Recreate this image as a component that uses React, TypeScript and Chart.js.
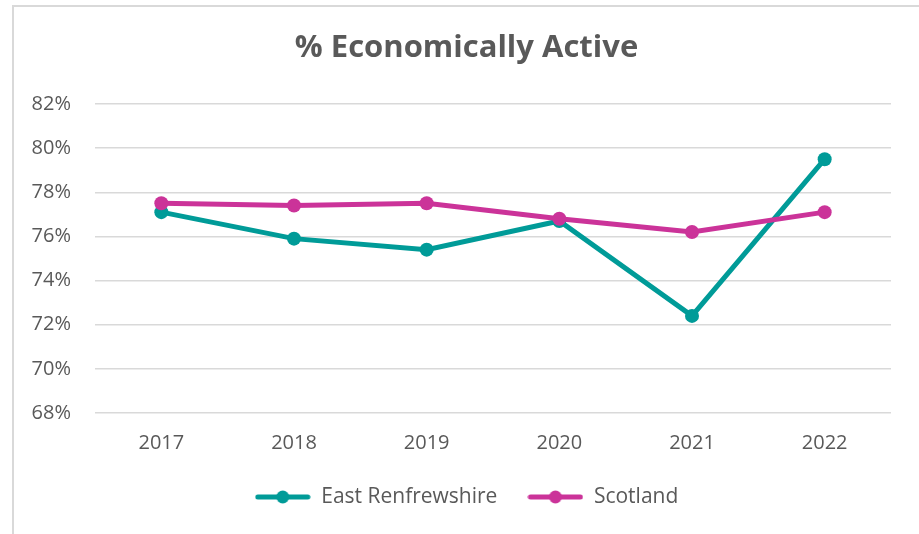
import React, { useEffect, useRef } from "react";
import { Chart, registerables } from "chart.js";

Chart.register(...registerables);

const years = ["2017", "2018", "2019", "2020", "2021", "2022"];
const eastRenfrewshire = [77.1, 75.9, 75.4, 76.7, 72.4, 79.5];
const scotland = [77.5, 77.4, 77.5, 76.8, 76.2, 77.1];
const seriesNames = ["East Renfrewshire", "Scotland"];
const yMin = 68;
const yMax = 82;
const yStep = 2;

const TEAL = "#009B98";
const MAGENTA = "#CB3399";
const TEXT = "#595959";
const FONT = "'Open Sans', 'Liberation Sans', sans-serif";

function legendMarker(color: string): HTMLCanvasElement {
  const c = document.createElement("canvas");
  c.width = 56;
  c.height = 16;
  const ctx = c.getContext("2d")!;
  ctx.strokeStyle = color;
  ctx.lineWidth = 5;
  ctx.lineCap = "round";
  ctx.beginPath();
  ctx.moveTo(3, 8);
  ctx.lineTo(53, 8);
  ctx.stroke();
  ctx.fillStyle = color;
  ctx.beginPath();
  ctx.arc(28, 8, 6.5, 0, Math.PI * 2);
  ctx.fill();
  return c;
}

// shifts the centre of the title and legend blocks to match the reference layout
const shiftBlocks = {
  id: "shiftBlocks",
  afterLayout(chart: any) {
    if (chart.titleBlock) chart.titleBlock.left += 30;
    if (chart.legend) chart.legend.left += 30;
  },
};

export default function App() {
  const ref = useRef<HTMLCanvasElement | null>(null);

  useEffect(() => {
    if (!ref.current) return;
    const markers = [legendMarker(TEAL), legendMarker(MAGENTA)];
    const chart = new Chart(ref.current, {
      type: "line",
      data: {
        labels: years,
        datasets: [
          {
            label: seriesNames[0],
            data: eastRenfrewshire,
            borderColor: TEAL,
            backgroundColor: TEAL,
            borderWidth: 5,
            pointRadius: 7,
            pointBorderWidth: 0,
            pointHoverRadius: 7,
            tension: 0,
            order: 1,
          },
          {
            label: seriesNames[1],
            data: scotland,
            borderColor: MAGENTA,
            backgroundColor: MAGENTA,
            borderWidth: 5,
            pointRadius: 7,
            pointBorderWidth: 0,
            pointHoverRadius: 7,
            tension: 0,
            order: 0,
          },
        ],
      },
      plugins: [shiftBlocks],
      options: {
        animation: false,
        responsive: false,
        maintainAspectRatio: false,
        layout: { padding: { left: 12, right: 28, top: 0, bottom: 16.5 } },
        plugins: {
          title: {
            display: true,
            text: "% Economically Active",
            color: TEXT,
            font: { family: FONT, size: 31, weight: "bold" },
            padding: { top: 29.4, bottom: 37.4 },
          },
          legend: {
            position: "bottom",
            labels: {
              color: TEXT,
              font: { family: FONT, size: 21 },
              usePointStyle: true,
              pointStyleWidth: 56,
              padding: 30,
              sort: (a: any, b: any) => a.datasetIndex - b.datasetIndex,
              generateLabels: (ch: any) => {
                const items = Chart.defaults.plugins.legend.labels.generateLabels(ch);
                return items.map((it: any) => ({ ...it, pointStyle: markers[it.datasetIndex] }));
              },
            },
          },
          tooltip: { enabled: false },
        },
        scales: {
          x: {
            grid: { display: false, drawTicks: false },
            border: { display: false },
            offset: true,
            ticks: { color: TEXT, font: { family: FONT, size: 20 }, padding: 18 },
            afterFit: (s: any) => {
              s.height = 43.5;
            },
          },
          y: {
            min: yMin,
            max: yMax,
            grid: { color: "#d9d9d9", lineWidth: 1.5, drawTicks: false },
            border: { display: false },
            ticks: {
              stepSize: yStep,
              color: TEXT,
              font: { family: FONT, size: 20 },
              padding: 24,
              callback: (v: any) => v + "%",
            },
            afterFit: (s: any) => {
              s.width = 83;
            },
          },
        },
      },
    });
    return () => chart.destroy();
  }, []);

  return (
    <div style={{ position: "fixed", left: 0, top: 0, width: 919, height: 534, background: "#fff", overflow: "hidden" }}>
      <div
        style={{
          position: "absolute",
          left: 12,
          top: 5,
          width: 1000,
          height: 700,
          borderLeft: "2px solid #d9d9d9",
          borderTop: "2px solid #d9d9d9",
        }}
      />
      <canvas ref={ref} width={919} height={534} style={{ position: "absolute", left: 0, top: 0, width: 919, height: 534 }} />
    </div>
  );
}
